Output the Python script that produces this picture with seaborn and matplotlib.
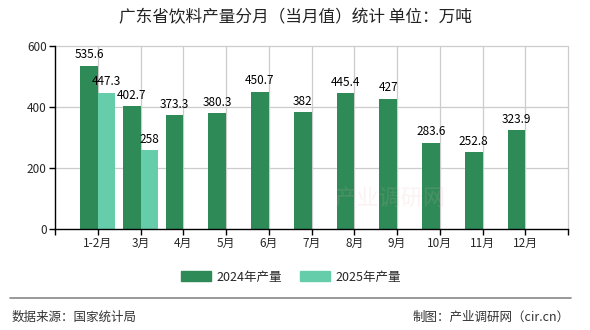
import matplotlib
matplotlib.use("Agg")
import matplotlib.pyplot as plt
import seaborn as sns
import pandas as pd
from matplotlib.lines import Line2D

months = ["1-2月", "3月", "4月", "5月", "6月", "7月", "8月", "9月", "10月", "11月", "12月"]
values_2024 = [535.6, 402.7, 373.3, 380.3, 450.7, 382, 445.4, 427, 283.6, 252.8, 323.9]
values_2025 = [447.3, 258, None, None, None, None, None, None, None, None, None]
series = ["2024年产量", "2025年产量"]
colors = ["#2E8B57", "#66CDAA"]

rows = []
for i, m in enumerate(months):
    rows.append({"pos": i + 1, "month": m, "series": series[0], "value": values_2024[i]})
    rows.append({"pos": i + 1, "month": m, "series": series[1], "value": values_2025[i]})
df = pd.DataFrame(rows)

sns.set_theme(style="white")
plt.rcParams["font.family"] = ["Noto Sans CJK SC", "DejaVu Sans"]

fig = plt.figure(figsize=(5.9, 3.3), dpi=100)
ax = fig.add_axes([55 / 590, 1 - 229 / 330, (568 - 55) / 590, (229 - 46) / 330])

sns.barplot(data=df, x="pos", y="value", hue="series", hue_order=series,
            palette=colors, native_scale=True, width=0.82, ax=ax,
            saturation=1, legend=False, errorbar=None, linewidth=0,
            edgecolor="none", gap=0, zorder=3)

ax.set_xlim(0, 12)
ax.set_ylim(0, 600)
ax.set_yticks([0, 200, 400, 600])
ax.set_xticks(range(0, 13))
ax.set_xticklabels([""] + months + [""])
ax.grid(False)
for xv in range(1, 13):
    ax.axvline(xv, color="#cccccc", linewidth=0.9, zorder=0, clip_on=False)
for yv in [200, 400, 600]:
    ax.axhline(yv, color="#cccccc", linewidth=0.9, zorder=0, clip_on=False)
for s in ["top", "right"]:
    ax.spines[s].set_visible(False)
for s in ["left", "bottom"]:
    ax.spines[s].set_color("black")
    ax.spines[s].set_linewidth(1.0)
    ax.spines[s].set_zorder(5)
ax.tick_params(axis="both", which="both", direction="out", length=4, width=1,
               color="black", labelsize=8.5, pad=2, bottom=True, left=True)
ax.set_xlabel("")
ax.set_ylabel("")

for cont in ax.containers:
    for bar in cont:
        h = bar.get_height()
        if h is None or h != h or h == 0:
            continue
        ax.text(bar.get_x() + bar.get_width() / 2, h + 14, f"{h:g}",
                ha="center", va="bottom", fontsize=8.5, color="black", zorder=6)

fig.text(0.5, 1 - 18 / 330, "广东省饮料产量分月（当月值）统计 单位：万吨",
         ha="center", va="center", fontsize=12, color="#222222")

handles = [plt.Rectangle((0, 0), 1, 1, color=c) for c in colors]
fig.legend(handles, series, loc="center", bbox_to_anchor=(291 / 590, 1 - 277 / 330),
           ncol=2, frameon=False, fontsize=9, handlelength=2.4, handleheight=0.8,
           columnspacing=1.5, handletextpad=0.4)

fig.add_artist(Line2D([10 / 590, 571 / 590], [1 - 298 / 330, 1 - 298 / 330],
                      color="#888888", linewidth=1.2, transform=fig.transFigure))
fig.text(12 / 590, 1 - 317 / 330, "数据来源：国家统计局", ha="left", va="center",
         fontsize=9, color="#333333")
fig.text(570 / 590, 1 - 317 / 330, "制图：产业调研网（cir.cn）", ha="right", va="center",
         fontsize=9, color="#333333")

fig.text(390 / 590, 1 - 198 / 330, "产业调研网", ha="center", va="center",
         fontsize=16, color="#e8b0b0", alpha=0.15)

fig.savefig("out.png", dpi=100)
